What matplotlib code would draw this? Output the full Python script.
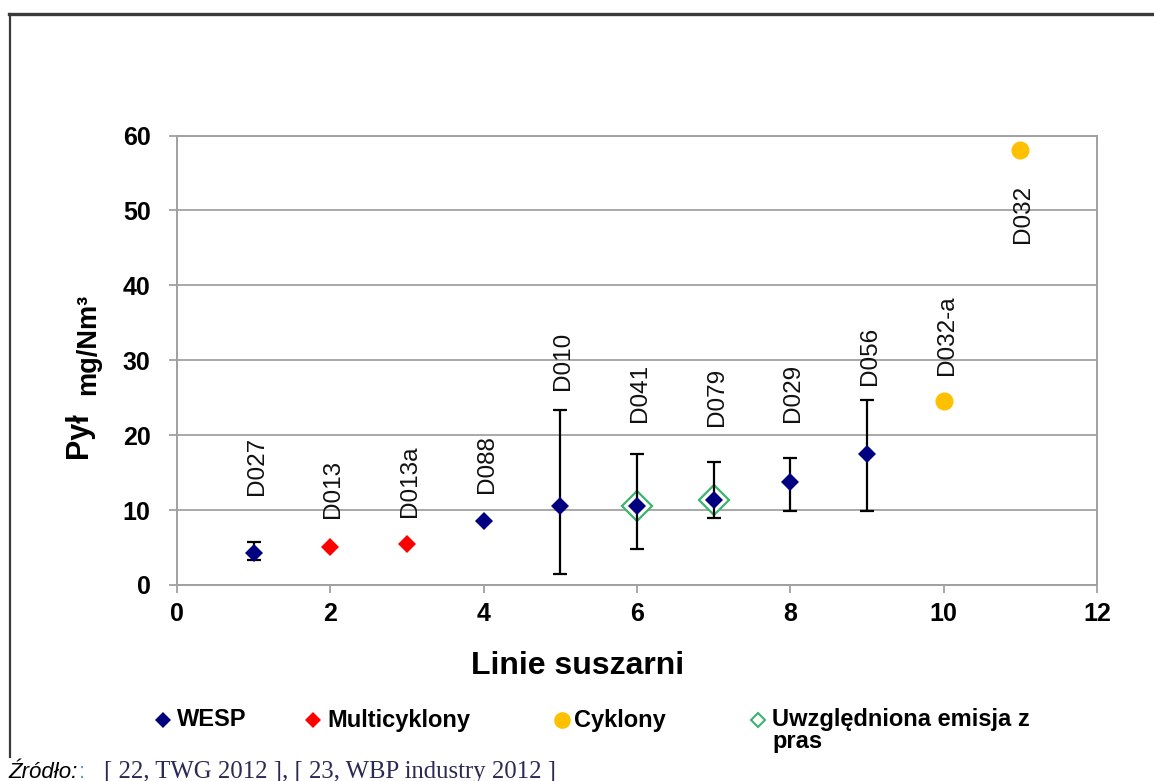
import numpy as np
import matplotlib
matplotlib.use("Agg")
import matplotlib.pyplot as plt
from matplotlib.lines import Line2D

plt.rcParams['font.family'] = ['Liberation Sans', 'DejaVu Sans']

# --- data -----------------------------------------------------------------
lines = [1, 2, 3, 4, 5, 6, 7, 8, 9, 10, 11]
names = ['D027', 'D013', 'D013a', 'D088', 'D010', 'D041', 'D079', 'D029',
         'D056', 'D032-a', 'D032']
dust = [4.3, 5.1, 5.5, 8.6, 10.5, 10.6, 11.3, 13.7, 17.5, 24.5, 58.0]
dust_min = [3.3, np.nan, np.nan, np.nan, 1.5, 4.8, 8.9, 9.9, 9.9, np.nan, np.nan]
dust_max = [5.8, np.nan, np.nan, np.nan, 23.4, 17.5, 16.4, 17.0, 24.7, np.nan, np.nan]
technique = ['WESP', 'Multicyklony', 'Multicyklony', 'WESP', 'WESP', 'WESP',
             'WESP', 'WESP', 'WESP', 'Cyklony', 'Cyklony']
press_included = ['D041', 'D079']
# where each rotated name sits on the value axis
name_y = [12.0, 8.95, 9.1, 12.3, 26.0, 21.8, 21.2, 21.8, 26.7, 28.0, 53.4]

x_ticks = [0, 2, 4, 6, 8, 10, 12]
y_ticks = [0, 10, 20, 30, 40, 50, 60]

styles = {
    'WESP': dict(marker='D', color='#000080', ms=9),
    'Multicyklony': dict(marker='D', color='#ff0000', ms=9),
    'Cyklony': dict(marker='o', color='#ffc000', ms=13),
}
green = '#3cb371'

# --- figure ---------------------------------------------------------------
W, H = 1154, 781
fig = plt.figure(figsize=(W / 100, H / 100), dpi=100)
fig.patch.set_facecolor('white')
ax = fig.add_axes([177 / W, 1 - 585 / H, (1097 - 177) / W, (585 - 135.5) / H])

x = np.array(lines, dtype=float)
y = np.array(dust)
tech = np.array(technique)

# hollow green diamonds behind the lines that include press emissions
mask_p = np.isin(np.array(names), press_included)
ax.plot(x[mask_p], y[mask_p], linestyle='none', marker='D', ms=15.5,
        markerfacecolor='white', markeredgecolor=green, markeredgewidth=1.6,
        zorder=3)

# min-max ranges
lo = np.array(dust_min)
hi = np.array(dust_max)
has = ~np.isnan(lo)
ax.errorbar(x[has], y[has], yerr=[y[has] - lo[has], hi[has] - y[has]],
            fmt='none', ecolor='black', elinewidth=1.6, capsize=5.2,
            capthick=1.6, zorder=4)

for key, st in styles.items():
    m = tech == key
    ax.plot(x[m], y[m], linestyle='none', marker=st['marker'], ms=st['ms'],
            color=st['color'], markeredgewidth=0, zorder=5)

for xi, name, ny in zip(lines, names, name_y):
    va = 'top' if ny > 50 else 'bottom'
    ax.text(xi + 0.04, ny, name, rotation=90, ha='center', va=va,
            fontsize=17.5, color='#111111', zorder=6)

ax.set_xlim(0, 12)
ax.set_ylim(0, 60)
ax.set_xticks(x_ticks)
ax.set_yticks(y_ticks)
ax.set_xticklabels([str(t) for t in x_ticks], fontsize=18, fontweight='bold')
ax.set_yticklabels([str(t) for t in y_ticks], fontsize=18, fontweight='bold')
ax.tick_params(axis='y', length=6, width=1.3, color='#a0a0a0', pad=13)
ax.tick_params(axis='x', length=6, width=1.3, color='#a0a0a0', pad=6)
ax.grid(axis='y', color='#a8a8a8', linewidth=1.4)
ax.set_axisbelow(True)
for side in ['left', 'bottom', 'right', 'top']:
    ax.spines[side].set_color('#a0a0a0')
    ax.spines[side].set_linewidth(1.4)

# axis titles
fig.text(578 / W, 1 - 666 / H, 'Linie suszarni', ha='center', va='center',
         fontsize=23, fontweight='bold')
fig.text(79 / W, 1 - 458 / H, 'Pył', rotation=90, ha='center', va='bottom',
         fontsize=22, fontweight='bold')
fig.text(88 / W, 1 - 395 / H, 'mg/Nm³', rotation=90, ha='center', va='bottom',
         fontsize=19.5, fontweight='bold')

# legend row
ly = 1 - 720 / H
legend_items = [
    (163, dict(marker='D', color='#000080', ms=8.5), 177, 'WESP'),
    (313, dict(marker='D', color='#ff0000', ms=8.5), 327, 'Multicyklony'),
    (562, dict(marker='o', color='#ffc000', ms=12), 574, 'Cyklony'),
]
for mx, st, tx, label in legend_items:
    fig.add_artist(Line2D([mx / W], [ly], marker=st['marker'], ms=st['ms'],
                          color=st['color'], markeredgewidth=0,
                          linestyle='none', transform=fig.transFigure))
    fig.text(tx / W, ly, label, ha='left', va='center', fontsize=17,
             fontweight='bold')
fig.add_artist(Line2D([758 / W], [ly], marker='D', ms=7.5,
                      markerfacecolor='white', markeredgecolor=green,
                      markeredgewidth=1.5, linestyle='none',
                      transform=fig.transFigure))
fig.text(772 / W, 1 - 708 / H, 'Uwzględniona emisja z\npras', ha='left',
         va='top', fontsize=17, fontweight='bold', linespacing=0.92)

# outer frame
fig.add_artist(Line2D([9 / W, 1], [1 - 13.5 / H, 1 - 13.5 / H], color='#3a3a3a',
                      linewidth=2.4, transform=fig.transFigure))
fig.add_artist(Line2D([9.5 / W, 9.5 / W], [1 - 13.5 / H, 1 - 757 / H],
                      color='#3a3a3a', linewidth=1.6, transform=fig.transFigure))

# source line
fig.text(8 / W, 1 - 778 / H, 'Źródło:', ha='left', va='baseline',
         fontsize=16, style='italic', color='black')
fig.text(79 / W, 1 - 778 / H, ':', ha='left', va='baseline', fontsize=16,
         color='#5aa0d0')
fig.text(104 / W, 1 - 778 / H, '[ 22, TWG 2012 ], [ 23, WBP industry 2012 ]',
         ha='left', va='baseline', fontsize=17.8, color='#2a2a55',
         family=['Liberation Serif', 'DejaVu Serif'])

fig.savefig('out.png', dpi=100, facecolor='white')
